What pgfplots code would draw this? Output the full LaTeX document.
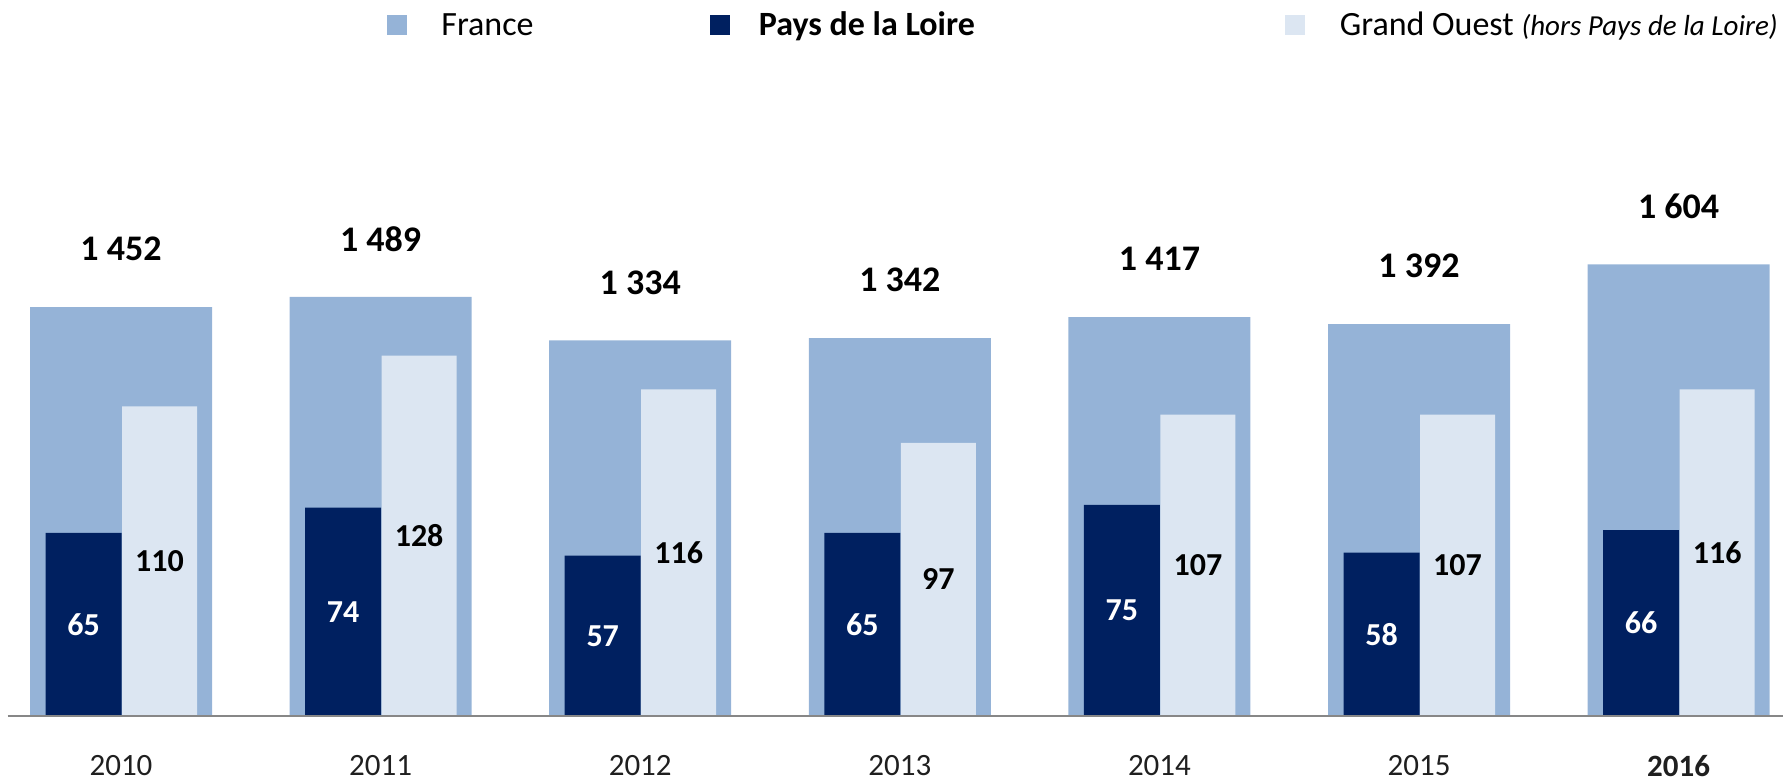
\documentclass[border=0pt]{standalone}
\usepackage{pgfplots}
\pgfplotsset{compat=1.18}
\usepackage{fontspec}
\setmainfont{Carlito}
\definecolor{franceblue}{HTML}{95B3D7}
\definecolor{paysblue}{HTML}{002060}
\definecolor{goblue}{HTML}{DCE6F2}
\definecolor{axisgray}{HTML}{878787}
\definecolor{txt}{HTML}{1F1F1F}
\pgfplotsset{
  base/.style={
    at={(0pt,0pt)}, anchor=south west,
    scale only axis, width=887.5pt, height=358pt,
    xmin=-0.4353, xmax=6.402, ymin=0,
    clip=false, ybar,
    xtick={0,...,6}, major tick length=0pt, ytick=\empty,
    axis y line=none, axis x line*=bottom,
    x axis line style={-, draw=axisgray, line width=1pt},
    /pgf/number format/assume math mode=true,
  }
}
\begin{document}
\begin{tikzpicture}
\path[use as bounding box] (-4pt,-33.5pt) rectangle (887.5pt,358pt);
% France (left scale)
\begin{axis}[base, ymax=2543,
  xticklabels={2010,2011,2012,2013,2014,2015,\textbf{2016}},
  xticklabel style={font=\fontsize{15.5}{18}\selectfont, text=txt, anchor=center, yshift=-25pt},
  nodes near coords,
  every node near coord/.append style={font=\fontsize{18}{21}\selectfont\bfseries, text=black, anchor=center, yshift=29pt},
  /pgf/number format/1000 sep={\ },
]
\addplot[fill=franceblue, draw=none, bar width=91pt, bar shift=0pt] table {
x y
0 1452
1 1489
2 1334
3 1342
4 1417
5 1392
6 1604
};
\end{axis}
% Pays de la Loire and Grand Ouest (right scale)
\begin{axis}[base, ymax=254.3, xticklabels={}, axis on top,
  nodes near coords,
  visualization depends on={rawy \as \rawy},
  every node near coord/.append style={font=\fontsize{16}{19}\selectfont\bfseries, anchor=center, shift={(axis direction cs:0,-0.5*\rawy)}},
]
\addplot[fill=paysblue, draw=none, bar width=38pt, bar shift=-18.75pt,
  nodes near coords style={text=white}] table {
x y
0 65
1 74
2 57
3 65
4 75
5 58
6 66
};
\addplot[fill=goblue, draw=none, bar width=37.5pt, bar shift=19.25pt,
  nodes near coords style={text=black}] table {
x y
0 110
1 128
2 116
3 97
4 107
5 107
6 116
};
\end{axis}
% legend
\fill[franceblue] (189.5pt,340.5pt) rectangle (199.5pt,350.5pt);
\node[anchor=base west, inner sep=0pt, font=\fontsize{17}{20}\selectfont] at (216.5pt,340pt) {France};
\fill[paysblue] (350.75pt,340.5pt) rectangle (361pt,350.5pt);
\node[anchor=base west, inner sep=0pt, font=\fontsize{17}{20}\selectfont\bfseries] at (375.25pt,340pt) {Pays de la Loire};
\fill[goblue] (638.5pt,340.5pt) rectangle (648.5pt,350.5pt);
\node[anchor=base west, inner sep=0pt, font=\fontsize{17}{20}\selectfont] at (665.75pt,340pt) {Grand Ouest {\itshape\fontsize{14.5}{17}\selectfont(hors Pays de la Loire)}};
\end{tikzpicture}
\end{document}
